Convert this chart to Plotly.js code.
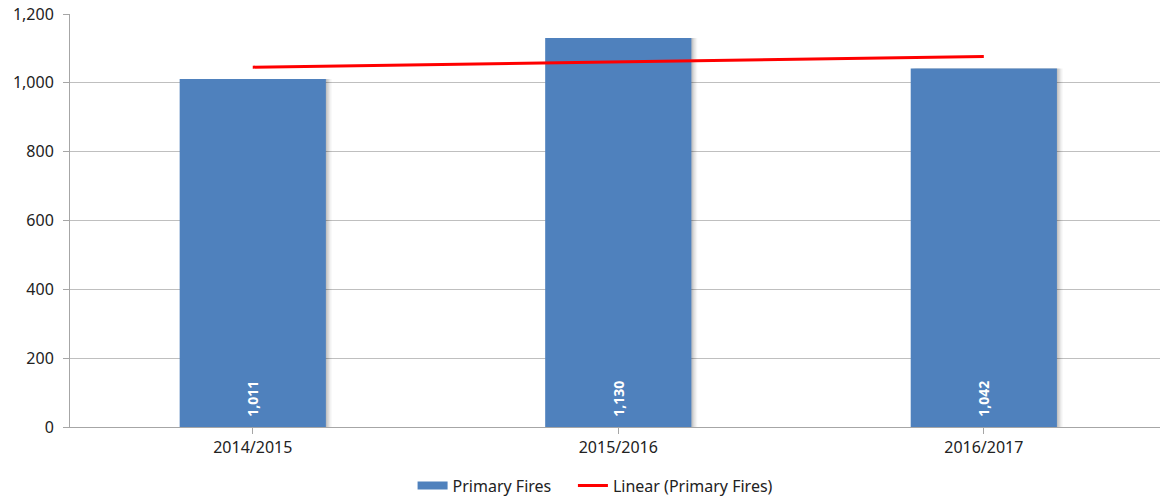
<!DOCTYPE html>
<html>
<head>
<meta charset="utf-8">
<script src="https://cdn.plot.ly/plotly-3.0.1.min.js"></script>
<style>html,body{margin:0;padding:0;background:#fff;}#chart{width:1160px;height:498px;}</style>
</head>
<body>
<div id="chart"></div>
<script>
const categories = ["2014/2015", "2015/2016", "2016/2017"];
const primaryFires = [1011, 1130, 1042];
const yTickValues = [0, 200, 400, 600, 800, 1000, 1200];

// Linear trend (least squares) of the series
const n = primaryFires.length;
const xs = primaryFires.map((_, i) => i);
const mx = xs.reduce((a, b) => a + b, 0) / n;
const my = primaryFires.reduce((a, b) => a + b, 0) / n;
let num = 0, den = 0;
xs.forEach((x, i) => { num += (x - mx) * (primaryFires[i] - my); den += (x - mx) ** 2; });
const slope = num / den, intercept = my - slope * mx;
const trend = xs.map(x => intercept + slope * x);

const fontFam = "Noto Sans, Liberation Sans, sans-serif";
const BLUE = "#4f81bd";

const shadowSteps = [0.004, 0.008, 0.012, 0.016];
const shadows = shadowSteps.map((d, k) => ({
  type: "bar", x: xs, y: primaryFires, width: 0.4, offset: -0.2 + d,
  marker: {color: "rgba(0,0,0," + (0.09 - k * 0.018) + ")", line: {width: 0}},
  hoverinfo: "skip", showlegend: false
})).reverse();

const bars = {
  type: "bar", name: "Primary Fires", x: xs, y: primaryFires, width: 0.4,
  marker: {color: BLUE, line: {width: 0}},
  text: primaryFires.map(v => "\u00a0\u00a0" + v.toLocaleString("en-US")),
  textposition: "inside", insidetextanchor: "start", textangle: -90,
  textfont: {color: "#ffffff", size: 14, family: fontFam, weight: "bold"},
  showlegend: false
};
const barLegend = {
  type: "scatter", mode: "lines", name: "Primary Fires\u00a0\u00a0\u00a0\u00a0",
  x: [null], y: [null], line: {color: BLUE, width: 8}
};
const trendLine = {
  type: "scatter", mode: "lines", name: "Linear (Primary Fires)",
  x: xs, y: trend, line: {color: "#ff0000", width: 3}
};

const layout = {
  width: 1160, height: 498,
  margin: {l: 70, r: 0, t: 14, b: 71},
  paper_bgcolor: "#ffffff", plot_bgcolor: "#ffffff",
  barmode: "overlay",
  font: {family: fontFam, size: 16, color: "#222"},
  xaxis: {
    range: [-0.5, 2.482], tickmode: "array", tickvals: xs, ticktext: categories,
    showgrid: false, showline: true, linecolor: "#a6a6a6", linewidth: 1,
    ticks: "outside", tickson: "boundaries", ticklen: 6, tickcolor: "#a6a6a6",
    tickfont: {size: 16, color: "#222"}, zeroline: false, fixedrange: true
  },
  yaxis: {
    range: [0, 1200], tickmode: "array", tickvals: yTickValues,
    ticktext: yTickValues.map(v => v.toLocaleString("en-US")),
    showgrid: true, gridcolor: "#bfbfbf", gridwidth: 1,
    showline: true, linecolor: "#a6a6a6", linewidth: 1,
    ticks: "outside", ticklen: 6, tickcolor: "#a6a6a6",
    tickfont: {size: 16, color: "#222"}, zeroline: false, ticklabelstandoff: 6
  },
  legend: {
    orientation: "h", xref: "container", yref: "container",
    x: 0.513, xanchor: "center", y: 0.025, yanchor: "middle",
    font: {size: 16, color: "#222"}, itemwidth: 30, tracegroupgap: 0
  },
  showlegend: true
};

Plotly.newPlot("chart", [...shadows, bars, barLegend, trendLine], layout, {displayModeBar: false, staticPlot: true});
</script>
</body>
</html>
